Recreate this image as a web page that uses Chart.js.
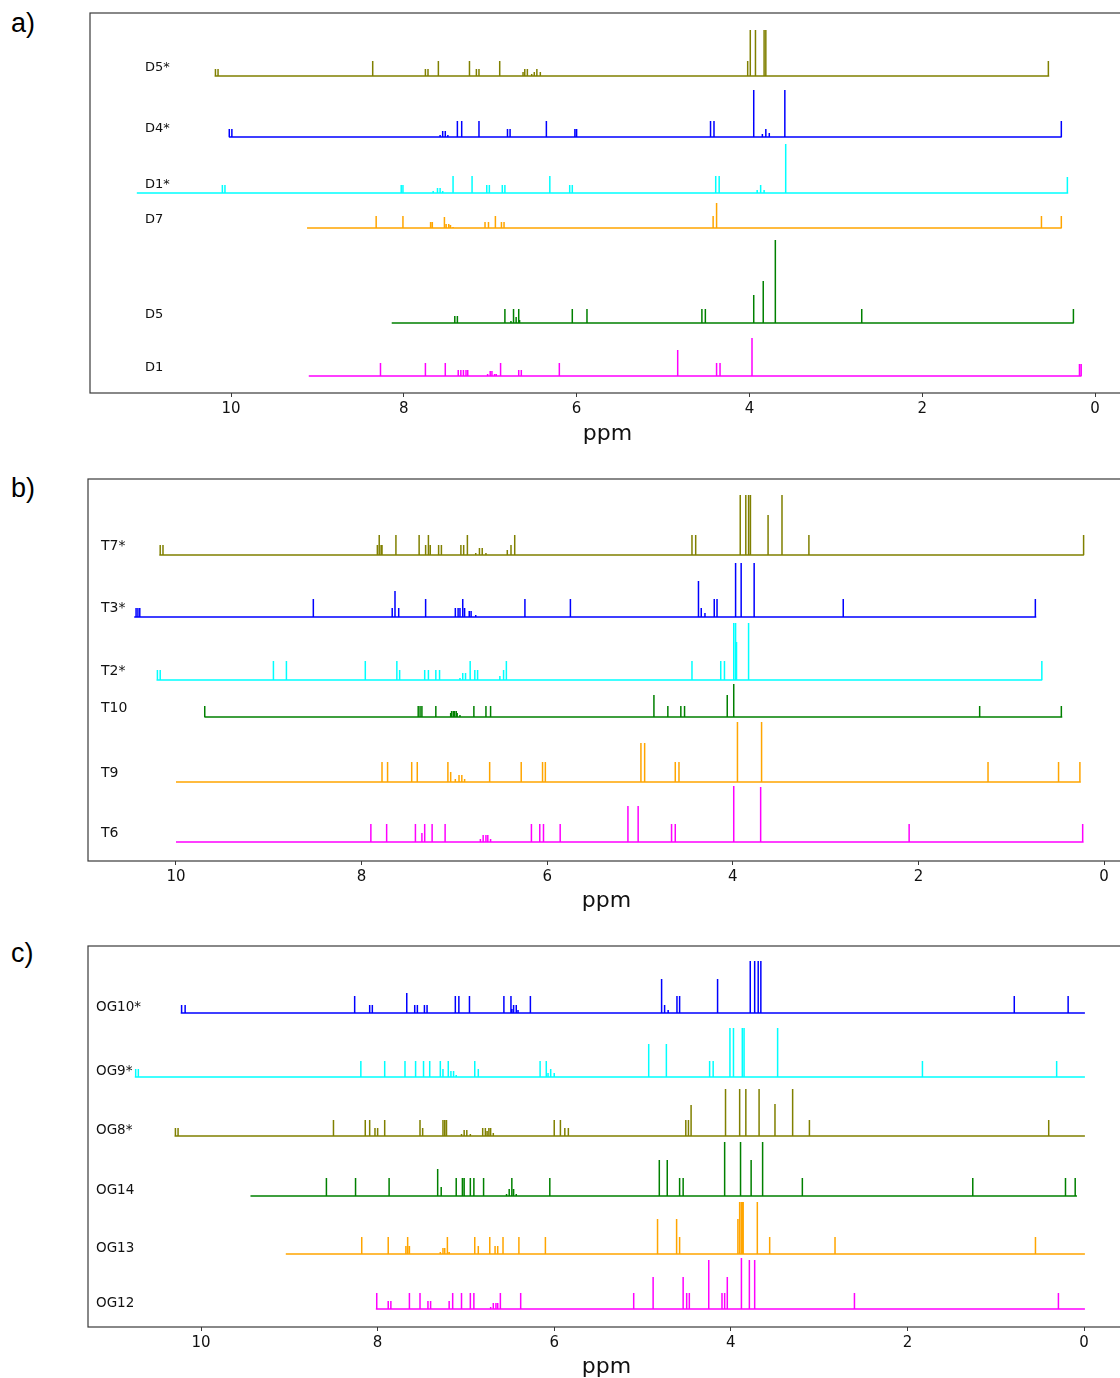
<!DOCTYPE html>
<html>
<head>
<meta charset="utf-8">
<title>NMR stick spectra</title>
<script src="https://cdn.jsdelivr.net/npm/chart.js@4.4.1/dist/chart.umd.min.js"></script>
<style>
    html, body { margin: 0; padding: 0; background: #fff; }
    body { width: 1120px; height: 1378px; overflow: hidden; position: relative; }
    canvas { position: absolute; left: 0; }
    .tag { position: absolute; left: 11px; font-family: "Liberation Sans", Arial, sans-serif; font-size: 27px; line-height: 30px; color: #000; }
</style>
</head>
<body>
<div class="tag" style="top: 8px;">a)</div>
<div class="tag" style="top: 473px;">b)</div>
<div class="tag" style="top: 938px;">c)</div>
<canvas id="chartA" width="1130" height="460" style="top: 0px;"></canvas>
<canvas id="chartB" width="1130" height="465" style="top: 465px;"></canvas>
<canvas id="chartC" width="1130" height="463" style="top: 932px;"></canvas>
<script>
// ---- panel a) data : [ppm, intensity] ----
const namesA = ['D5*', 'D4*', 'D1*', 'D7', 'D5', 'D1'];
const offsetsA = [317, 256, 200, 165, 70, 17];
const rangesA = [[10.19, 0.53], [10.02, 0.39], [11.09, 0.31], [9.12, 0.39], [8.14, 0.25], [9.10, 0.16]];
const pkD5s = [[10.18,7],[10.15,7],[8.36,15],[7.75,7],[7.72,7],[7.60,15],[7.24,15],[7.16,7],[7.13,7],[6.89,15],[6.62,4],[6.60,7],[6.57,7],[6.52,2],[6.49,4],[6.46,7],[6.42,4],[4.02,15],[3.99,46],[3.93,46],[3.83,46],[3.81,46],[0.54,15]];
const pkD4s = [[10.02,8],[9.99,8],[7.58,2],[7.55,6],[7.52,6],[7.49,2],[7.38,16],[7.33,16],[7.13,16],[6.80,8],[6.77,8],[6.35,16],[6.02,8],[6.00,8],[4.45,16],[4.41,16],[3.95,47],[3.85,3],[3.81,8],[3.77,4],[3.59,47],[0.39,16]];
const pkD1s = [[10.10,8],[10.07,8],[8.03,8],[8.01,8],[7.66,2],[7.61,5],[7.58,5],[7.55,2],[7.43,17],[7.21,17],[7.04,8],[7.01,8],[6.86,8],[6.83,8],[6.31,17],[6.08,8],[6.05,8],[4.39,17],[4.35,17],[3.91,3],[3.87,8],[3.83,3],[3.58,49],[0.32,16]];
const pkD7 = [[8.32,12],[8.01,12],[7.69,6],[7.67,6],[7.53,11],[7.51,4],[7.48,4],[7.46,3],[7.43,1],[7.06,6],[7.02,6],[6.94,12],[6.87,6],[6.84,6],[4.42,12],[4.38,25],[0.62,12],[0.39,12]];
const pkD5 = [[7.41,7],[7.38,7],[6.83,14],[6.76,2],[6.73,14],[6.70,6],[6.67,14],[6.66,3],[6.05,14],[5.88,14],[4.55,14],[4.51,14],[3.95,28],[3.84,42],[3.70,83],[2.70,14],[0.25,14]];
const pkD1 = [[8.27,13],[7.75,13],[7.52,13],[7.37,6],[7.34,6],[7.31,6],[7.28,6],[7.26,6],[7.03,2],[7.00,5],[6.98,5],[6.95,2],[6.93,2],[6.88,13],[6.67,6],[6.64,6],[6.20,13],[4.83,26],[4.38,13],[4.34,13],[3.97,38],[0.18,12],[0.16,12]];
const peaksA = [pkD5s, pkD4s, pkD1s, pkD7, pkD5, pkD1];

// ---- panel b) data ----
const namesB = ['T7*', 'T3*', 'T2*', 'T10', 'T9', 'T6'];
const offsetsB = [306, 244, 181, 144, 79, 19];
const rangesB = [[10.18, 0.22], [10.45, 0.73], [10.21, 0.67], [9.69, 0.45], [10.0, 0.25], [10.0, 0.22]];
const pkT7s = [[10.17,10],[10.14,10],[7.83,10],[7.81,20],[7.79,10],[7.78,10],[7.63,20],[7.38,20],[7.31,10],[7.28,20],[7.26,10],[7.17,10],[7.14,10],[6.93,10],[6.90,10],[6.86,20],[6.77,2],[6.73,7],[6.70,7],[6.66,2],[6.43,5],[6.39,10],[6.35,20],[4.44,20],[4.40,20],[3.92,60],[3.86,60],[3.83,60],[3.81,60],[3.62,40],[3.47,60],[3.18,20],[0.22,20]];
const pkT3s = [[10.43,9],[10.41,9],[10.39,9],[8.52,18],[7.67,9],[7.64,26],[7.60,9],[7.31,18],[6.99,9],[6.96,9],[6.94,9],[6.91,18],[6.89,9],[6.84,6],[6.82,6],[6.77,2],[6.24,18],[5.75,18],[4.37,36],[4.34,9],[4.30,4],[4.20,18],[4.17,18],[3.97,54],[3.91,54],[3.77,54],[2.81,18],[0.74,18]];
const pkT2s = [[10.20,10],[10.17,10],[8.95,19],[8.81,19],[7.96,19],[7.62,19],[7.59,10],[7.32,10],[7.28,10],[7.20,10],[7.16,10],[6.94,2],[6.91,7],[6.88,7],[6.83,19],[6.78,10],[6.75,10],[6.51,4],[6.47,10],[6.44,19],[4.44,19],[4.13,19],[4.09,19],[3.99,57],[3.97,57],[3.96,38],[3.83,57],[0.67,19]];
const pkT10 = [[9.69,11],[7.39,11],[7.37,11],[7.35,11],[7.20,11],[7.04,4],[7.03,6],[7.01,6],[7.00,6],[6.98,6],[6.97,4],[6.94,2],[6.79,11],[6.66,11],[6.61,11],[4.85,22],[4.70,11],[4.56,11],[4.52,11],[4.06,22],[3.99,33],[1.34,11],[0.46,11]];
const pkT9 = [[7.78,20],[7.72,20],[7.46,20],[7.40,20],[7.07,20],[7.04,10],[6.99,3],[6.95,7],[6.92,7],[6.89,3],[6.62,20],[6.28,20],[6.05,20],[6.02,20],[4.99,39],[4.95,39],[4.62,20],[4.58,20],[3.95,60],[3.69,60],[1.25,20],[0.49,20],[0.26,20]];
const pkT6 = [[7.90,18],[7.73,18],[7.42,18],[7.35,9],[7.32,18],[7.24,18],[7.10,18],[6.72,3],[6.69,7],[6.66,7],[6.64,7],[6.61,3],[6.17,18],[6.08,18],[6.04,18],[5.86,18],[5.13,36],[5.02,36],[4.66,18],[4.62,18],[3.99,56],[3.70,55],[2.10,18],[0.23,18]];
const peaksB = [pkT7s, pkT3s, pkT2s, pkT10, pkT9, pkT6];

// ---- panel c) data ----
const namesC = ['OG10*', 'OG9*', 'OG8*', 'OG14', 'OG13', 'OG12'];
const offsetsC = [314, 250, 191, 131, 73, 18];
const rangesC = [[10.23, -0.01], [10.75, -0.01], [10.30, -0.01], [9.44, 0.08], [9.04, -0.01], [8.02, -0.01]];
const pkOG10s = [[10.22,8],[10.18,8],[8.26,17],[8.09,8],[8.06,8],[7.67,20],[7.58,8],[7.55,8],[7.47,8],[7.44,8],[7.12,17],[7.08,17],[6.96,17],[6.57,17],[6.49,17],[6.48,4],[6.46,8],[6.43,8],[6.41,3],[6.27,17],[4.79,34],[4.78,3],[4.75,8],[4.71,3],[4.61,17],[4.58,17],[4.15,34],[3.78,52],[3.73,52],[3.69,52],[3.66,52],[0.79,17],[0.18,17]];
const pkOG9s = [[10.74,8],[10.71,8],[8.19,16],[7.92,16],[7.69,16],[7.57,16],[7.48,16],[7.41,16],[7.29,16],[7.26,8],[7.20,16],[7.17,6],[7.14,6],[7.11,2],[6.90,16],[6.86,8],[6.16,16],[6.09,16],[6.07,4],[6.04,8],[6.00,4],[4.93,33],[4.73,33],[4.24,16],[4.20,16],[4.01,49],[3.97,49],[3.87,49],[3.85,49],[3.47,49],[1.83,16],[0.31,16]];
const pkOG8s = [[10.29,8],[10.26,8],[8.50,16],[8.14,16],[8.09,16],[8.03,8],[8.00,8],[7.92,16],[7.52,16],[7.49,8],[7.26,16],[7.24,16],[7.22,16],[7.05,2],[7.02,6],[6.99,6],[6.95,2],[6.81,8],[6.78,8],[6.76,5],[6.74,8],[6.72,8],[6.69,3],[6.00,16],[5.93,16],[5.88,8],[5.84,8],[4.51,16],[4.48,16],[4.45,31],[4.06,47],[3.90,47],[3.83,47],[3.68,47],[3.50,32],[3.30,47],[3.11,16],[0.40,16]];
const pkOG14 = [[8.58,18],[8.25,18],[7.87,18],[7.32,27],[7.28,9],[7.11,18],[7.04,18],[7.02,18],[6.95,18],[6.91,18],[6.80,18],[6.54,2],[6.51,7],[6.48,18],[6.46,7],[6.43,2],[6.05,18],[4.81,36],[4.72,36],[4.58,18],[4.54,18],[4.07,54],[3.89,54],[3.77,36],[3.64,54],[3.19,18],[1.26,18],[0.21,18],[0.10,18]];
const pkOG13 = [[8.18,17],[7.88,17],[7.68,8],[7.66,17],[7.64,8],[7.29,2],[7.26,6],[7.24,6],[7.21,17],[7.19,2],[6.90,17],[6.86,8],[6.73,17],[6.67,8],[6.64,8],[6.58,17],[6.40,17],[6.10,17],[4.83,35],[4.62,35],[4.61,17],[4.58,17],[3.92,35],[3.90,52],[3.88,52],[3.87,52],[3.86,52],[3.70,52],[3.56,17],[2.82,17],[0.55,17]];
const pkOG12 = [[8.01,16],[7.88,8],[7.85,8],[7.64,16],[7.52,16],[7.43,8],[7.40,8],[7.19,8],[7.15,16],[7.05,16],[6.95,16],[6.91,16],[6.72,2],[6.69,6],[6.66,6],[6.64,6],[6.61,16],[6.38,16],[5.10,16],[4.88,32],[4.54,32],[4.50,16],[4.47,16],[4.25,49],[4.10,16],[4.07,16],[4.04,32],[3.88,51],[3.79,49],[3.73,49],[2.60,16],[0.29,16]];
const peaksC = [pkOG10s, pkOG9s, pkOG8s, pkOG14, pkOG13, pkOG12];

// axis limits (ppm) and tick labels
const xLimitsA = [-0.347, 11.632];
const xLimitsB = [-0.226, 10.948];
const xLimitsC = [-0.464, 11.280];
const tickValues = [0, 2, 4, 6, 8, 10];

// colours (matplotlib named colours)
const OLIVE = '#808000', BLUE = '#0000ff', CYAN = '#00ffff', ORANGE = '#ffa500', GREEN = '#008000', MAGENTA = '#ff00ff';
const coloursA = [OLIVE, BLUE, CYAN, ORANGE, GREEN, MAGENTA];
const coloursB = [OLIVE, BLUE, CYAN, GREEN, ORANGE, MAGENTA];
const coloursC = [BLUE, CYAN, OLIVE, GREEN, ORANGE, MAGENTA];

// turn a peak list into one polyline: baseline with sticks going up and back
function stickPoints(range, base, peaks) {
    const pts = [{ x: range[0], y: base }];
    peaks.slice().sort((p, q) => q[0] - p[0]).forEach(([ppm, h]) => {
        pts.push({ x: ppm, y: base }, { x: ppm, y: base + h }, { x: ppm, y: base });
    });
    pts.push({ x: range[1], y: base });
    return pts;
}

// draws the frame and the sample names
const framePlugin = {
    id: 'frame',
    afterDatasetsDraw(chart, args, opts) {
        const { ctx, chartArea: a, scales } = chart;
        ctx.save();
        ctx.strokeStyle = '#3a3a3a';
        ctx.lineWidth = 1.2;
        ctx.strokeRect(a.left, a.top, a.right - a.left, a.bottom - a.top);

        ctx.fillStyle = '#111';
        ctx.font = opts.fontSize + 'px "DejaVu Sans"';
        ctx.textAlign = 'left';
        ctx.textBaseline = 'middle';
        opts.names.forEach((name, i) => {
            const y = scales.y.getPixelForValue(opts.offsets[i]) - opts.dy;
            ctx.fillText(name, opts.labelX, y);
        });
        ctx.restore();
    }
};

function makePanel(id, cfg) {
    const ctx = document.getElementById(id).getContext('2d');
    const datasets = cfg.names.map((name, i) => ({
        label: name,
        data: stickPoints(cfg.ranges[i], cfg.offsets[i], cfg.peaks[i]),
        borderColor: cfg.colours[i],
        borderWidth: 1.5,
        borderJoinStyle: 'bevel',
        pointRadius: 0,
        tension: 0,
        fill: false
    }));

    return new Chart(ctx, {
        type: 'line',
        data: { datasets: datasets },
        options: {
            responsive: false,
            animation: false,
            events: [],
            layout: { padding: { left: cfg.left, right: 5, top: cfg.top, bottom: 0 } },
            plugins: {
                legend: { display: false },
                tooltip: { enabled: false },
                frame: { names: cfg.names, offsets: cfg.offsets, labelX: cfg.labelX, dy: cfg.dy, fontSize: cfg.fontSize }
            },
            scales: {
                x: {
                    type: 'linear',
                    reverse: true,
                    min: cfg.xLimits[0],
                    max: cfg.xLimits[1],
                    afterBuildTicks: (scale) => {
                        scale.ticks = tickValues.map(v => ({ value: v }));
                    },
                    afterFit: (scale) => { scale.height = cfg.axisH; },
                    ticks: {
                        color: '#111',
                        padding: 3,
                        maxRotation: 0,
                        autoSkip: false,
                        font: { family: 'DejaVu Sans', size: 15 },
                        callback: (v) => String(v)
                    },
                    grid: { drawOnChartArea: false, drawTicks: true, tickLength: 4, tickColor: '#3a3a3a' },
                    border: { display: false },
                    title: {
                        display: true,
                        text: 'ppm',
                        color: '#111',
                        font: { family: 'DejaVu Sans', size: 22 },
                        padding: { top: 0, bottom: cfg.titlePad }
                    }
                },
                y: {
                    type: 'linear',
                    display: false,
                    min: 0,
                    max: cfg.yMax
                }
            }
        },
        plugins: [framePlugin]
    });
}

window.onload = () => {
    makePanel('chartA', {
        names: namesA, offsets: offsetsA, ranges: rangesA, peaks: peaksA, colours: coloursA,
        xLimits: xLimitsA, left: 90, top: 13, axisH: 67, yMax: 380, titlePad: 13,
        labelX: 145, dy: 8.5, fontSize: 13
    });
    makePanel('chartB', {
        names: namesB, offsets: offsetsB, ranges: rangesB, peaks: peaksB, colours: coloursB,
        xLimits: xLimitsB, left: 88, top: 14, axisH: 69, yMax: 382, titlePad: 16,
        labelX: 101, dy: 9, fontSize: 14
    });
    makePanel('chartC', {
        names: namesC, offsets: offsetsC, ranges: rangesC, peaks: peaksC, colours: coloursC,
        xLimits: xLimitsC, left: 88, top: 14, axisH: 68, yMax: 381, titlePad: 15,
        labelX: 96, dy: 5.5, fontSize: 13.5
    });
};
</script>
</body>
</html>
